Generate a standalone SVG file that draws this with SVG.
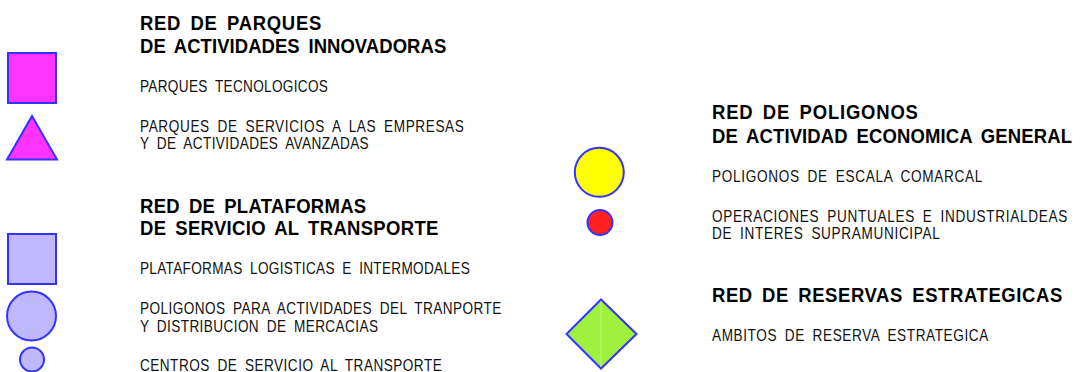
<svg xmlns="http://www.w3.org/2000/svg" width="1087" height="372" viewBox="0 0 1087 372">
<style>
.h{font-family:"Liberation Sans",Arial,sans-serif;font-weight:bold;font-size:21px;fill:#000;word-spacing:4px}
.t{font-family:"Liberation Sans",Arial,sans-serif;font-size:16px;fill:#111;word-spacing:4px}
.sym{stroke:#3333ff;stroke-width:2}
.mag{fill:#ff33ff}
.lav{fill:#c0b8ff}
</style>
<rect width="1087" height="372" fill="#fff"/>
<g id="grp-parques">
<text class="h" transform="translate(140,29.5) scale(0.88,1)" textLength="206" lengthAdjust="spacing">RED DE PARQUES</text>
<text class="h" transform="translate(140,52.5) scale(0.88,1)" textLength="348" lengthAdjust="spacing">DE ACTIVIDADES INNOVADORAS</text>
</g>
<g id="node-parques-tecnologicos">
<rect class="sym mag" x="8" y="53" width="48" height="50"/>
<text class="t" transform="translate(140,91.5) scale(0.85,1)" textLength="221" lengthAdjust="spacing">PARQUES TECNOLOGICOS</text>
</g>
<g id="node-parques-servicios">
<polygon class="sym mag" points="32,116 57,159.5 7,159.5"/>
<text class="t" transform="translate(140,131.5) scale(0.85,1)" textLength="381" lengthAdjust="spacing">PARQUES DE SERVICIOS A LAS EMPRESAS</text>
<text class="t" transform="translate(140,149.3) scale(0.85,1)" textLength="269" lengthAdjust="spacing">Y DE ACTIVIDADES AVANZADAS</text>
</g>
<g id="grp-plataformas">
<text class="h" transform="translate(140,213.3) scale(0.88,1)" textLength="257" lengthAdjust="spacing">RED DE PLATAFORMAS</text>
<text class="h" transform="translate(140,235) scale(0.88,1)" textLength="339" lengthAdjust="spacing">DE SERVICIO AL TRANSPORTE</text>
</g>
<g id="node-plataformas-logisticas">
<rect class="sym lav" x="8" y="234" width="48" height="50"/>
<text class="t" transform="translate(140,274.3) scale(0.85,1)" textLength="388" lengthAdjust="spacing">PLATAFORMAS LOGISTICAS E INTERMODALES</text>
</g>
<g id="node-poligonos-transporte">
<circle class="sym lav" cx="31.5" cy="316" r="24.5"/>
<text class="t" transform="translate(140,314) scale(0.85,1)" textLength="425" lengthAdjust="spacing">POLIGONOS PARA ACTIVIDADES DEL TRANPORTE</text>
<text class="t" transform="translate(140,331.7) scale(0.85,1)" textLength="280" lengthAdjust="spacing">Y DISTRIBUCION DE MERCACIAS</text>
</g>
<g id="node-centros-servicio">
<circle class="sym lav" cx="32" cy="359.5" r="12"/>
<text class="t" transform="translate(140,370.7) scale(0.85,1)" textLength="355" lengthAdjust="spacing">CENTROS DE SERVICIO AL TRANSPORTE</text>
</g>
<g id="grp-poligonos">
<text class="h" transform="translate(712,119.3) scale(0.88,1)" textLength="234" lengthAdjust="spacing">RED DE POLIGONOS</text>
<text class="h" transform="translate(712,142.7) scale(0.88,1)" textLength="409" lengthAdjust="spacing">DE ACTIVIDAD ECONOMICA GENERAL</text>
</g>
<g id="node-poligonos-comarcal">
<circle class="sym" cx="599.3" cy="172.3" r="24.5" fill="#ffff00"/>
<text class="t" transform="translate(712,181.7) scale(0.85,1)" textLength="318" lengthAdjust="spacing">POLIGONOS DE ESCALA COMARCAL</text>
</g>
<g id="node-operaciones-puntuales">
<circle class="sym" cx="600" cy="222.5" r="12.5" fill="#ff2020"/>
<text class="t" transform="translate(712,221.7) scale(0.85,1)" textLength="418" lengthAdjust="spacing">OPERACIONES PUNTUALES E INDUSTRIALDEAS</text>
<text class="t" transform="translate(712,239.3) scale(0.85,1)" textLength="268" lengthAdjust="spacing">DE INTERES SUPRAMUNICIPAL</text>
</g>
<g id="grp-reservas">
<text class="h" transform="translate(712,301.7) scale(0.88,1)" textLength="398" lengthAdjust="spacing">RED DE RESERVAS ESTRATEGICAS</text>
</g>
<g id="node-ambitos-reserva">
<polygon class="sym" points="601,299.5 636.5,334 601,368.5 566.5,334" fill="#a0f040"/>
<line x1="601" y1="301" x2="601" y2="367" stroke="#b8f870" stroke-width="1"/>
<text class="t" transform="translate(712,340.7) scale(0.85,1)" textLength="325" lengthAdjust="spacing">AMBITOS DE RESERVA ESTRATEGICA</text>
</g>
<g id="connectors"/>
</svg>
